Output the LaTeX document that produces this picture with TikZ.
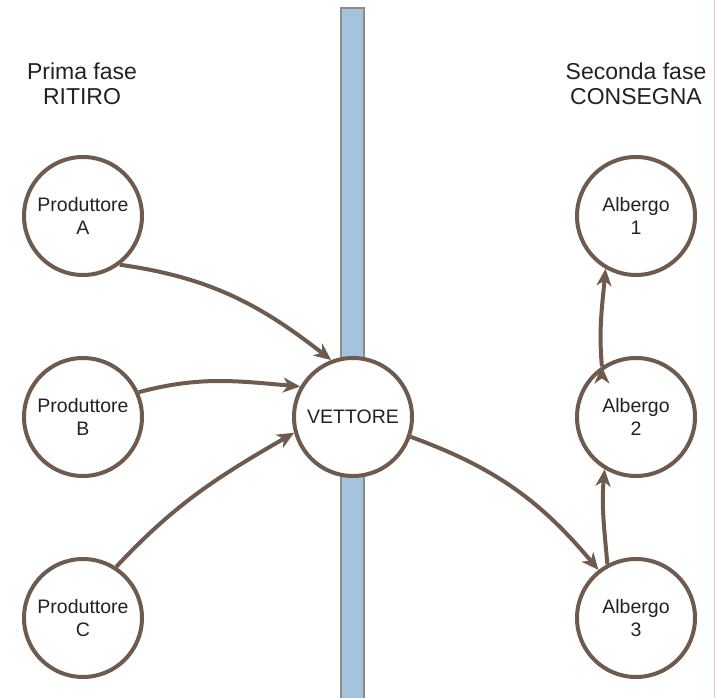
\documentclass[tikz,border=0pt]{standalone}
\usepackage{fontspec}
\setmainfont{Liberation Sans}
\usetikzlibrary{arrows.meta}
\definecolor{brownline}{HTML}{6F5A4E}
\definecolor{barblue}{HTML}{A5C3DD}
\definecolor{bargray}{HTML}{8C8C8C}
\definecolor{textgray}{HTML}{222222}
\definecolor{edgepink}{HTML}{F6C8BA}

\begin{document}
\begin{tikzpicture}[x=1pt, y=1pt, node distance = 201pt,
    place/.style = {circle, draw=brownline, line width=4pt, fill=white,
        minimum size=118pt, inner sep=0pt, align=center, text=textgray,
        font=\fontsize{19.5}{23}\selectfont},
    phase/.style = {align=center, text=textgray, inner sep=0pt, anchor=north,
        font=\fontsize{23}{25}\selectfont},
    flow/.style = {draw=brownline, line width=4pt,
        -{Stealth[length=17pt,width=15pt,inset=5pt]}}]
\useasboundingbox (0,0) rectangle (717,698);
\draw[bargray, line width=1.5pt, fill=barblue] (341,-2) rectangle (364,690);
\draw[edgepink, line width=1pt] (714.5,0) -- (714.5,698);

\node[phase] (ritiro) at (82,635) {Prima fase\\RITIRO};
\node[phase] (consegna) at (636,635) {Seconda fase\\CONSEGNA};

\node[place] (prod_A) at (83,482) {Produttore\\A};
\node[place] (prod_B) [below of = prod_A] {Produttore\\B};
\node[place] (prod_C) [below of = prod_B] {Produttore\\C};
\node[place] (vettore) [right of = prod_B, node distance = 270pt] {VETTORE};
\node[place] (alb_2) [right of = vettore, node distance = 283pt] {Albergo\\2};
\node[place] (alb_1) [above of = alb_2] {Albergo\\1};
\node[place] (alb_3) [below of = alb_2] {Albergo\\3};

\path[flow] (prod_A.-53) edge [out=-8, in=142] (vettore.111)
    (prod_B.24) edge [out=15, in=175] (vettore.150)
    (prod_C.57) edge [out=47, in=210] (vettore.195)
    (vettore.-19) edge [out=-20, in=130] (alb_3.128)
    (alb_3.118) edge [out=95, in=-95] (alb_2.-121)
    (alb_2.124) edge [out=95, in=-95] (alb_1.-120);
\end{tikzpicture}
\end{document}
